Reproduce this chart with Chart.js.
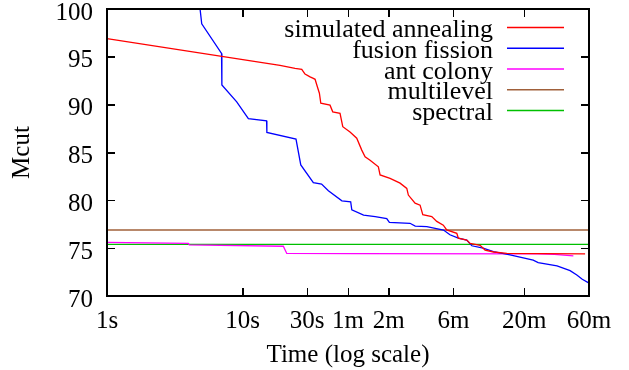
<!DOCTYPE html>
<html>
<head>
<meta charset="utf-8">
<script src="https://cdn.jsdelivr.net/npm/chart.js@4/dist/chart.umd.min.js"></script>
<style>
html,body{margin:0;padding:0;background:#fff;}
canvas{display:block;}
</style>
</head>
<body>
<canvas id="c" width="629" height="370"></canvas>
<script>
// ---- data ----
const seriesNames = ['simulated annealing', 'fusion fission', 'ant colony', 'multilevel', 'spectral'];
const seriesColors = ['#ff0000', '#0000ff', '#ff00ff', '#a0603a', '#00c000'];

// time in seconds
const saTime = [1, 18.9, 24.4, 27.35, 28.9, 31.5, 33.3, 34.3, 35.6, 36.9, 37.8, 44.2, 46.3, 52.4, 54.9, 62.1, 69.6, 75.8, 80.2, 87.3, 100.5, 103.5, 122.6, 145.3, 162.9, 167.3, 187.5, 204.2, 213.8, 249, 271, 303, 321, 381, 391, 451, 478, 566, 616, 710, 891, 1600, 3370];
const saCut  = [96.9, 94.1, 93.8, 93.7, 93.2, 92.9, 92.75, 92.65, 91.9, 91.2, 90.15, 89.95, 89.25, 89.1, 87.7, 87.15, 86.5, 85.25, 84.55, 84.2, 83.5, 82.65, 82.3, 81.8, 81.25, 80.55, 79.7, 79.5, 78.5, 78.3, 77.8, 77.4, 76.9, 76.55, 76.05, 75.85, 75.5, 75.3, 74.8, 74.6, 74.45, 74.42, 74.4];

const ffTime = [4.86, 5.0, 7.0, 7.04, 9.06, 11.04, 15.05, 15.12, 24.8, 26.9, 33.3, 38.3, 43.0, 54.1, 62.8, 64.0, 78.2, 95.2, 115.9, 121.2, 172, 188, 229, 304, 339, 391, 451, 492, 596, 710, 941, 1395, 1518, 2091, 2611, 2927, 3211, 3552];
const ffCut  = [100, 98.45, 95.35, 92.05, 90.3, 88.55, 88.3, 87.1, 86.4, 83.7, 81.85, 81.7, 81.0, 79.95, 79.85, 79.0, 78.45, 78.3, 78.1, 77.7, 77.6, 77.3, 77.25, 76.9, 76.4, 76.05, 75.85, 75.25, 75.0, 74.65, 74.3, 73.75, 73.5, 73.15, 72.65, 72.2, 71.75, 71.4];

const antTime = [1, 3.98, 4.05, 20, 21.2, 65, 1500, 2000, 2760];
const antCut  = [75.6, 75.5, 75.35, 75.2, 74.45, 74.42, 74.4, 74.35, 74.2];

const mlTime = [1, 3600];
const mlCut  = [76.9, 76.9];

const spTime = [1, 3600];
const spCut  = [75.4, 75.4];

const xTickValues = [1, 10, 30, 60, 120, 360, 1200, 3600];
const xTickLabels = ['1s', '10s', '30s', '1m', '2m', '6m', '20m', '60m'];
const yTickValues = [70, 75, 80, 85, 90, 95, 100];
const yTickLabels = ['70', '75', '80', '85', '90', '95', '100'];

const FONT = '"Liberation Serif", "Times New Roman", serif';

function pts(ts, vs) { return ts.map((t, i) => ({ x: t, y: vs[i] })); }
const seriesPoints = [pts(saTime, saCut), pts(ffTime, ffCut), pts(antTime, antCut), pts(mlTime, mlCut), pts(spTime, spCut)];

// gnuplot-like frame: black border on every side with short inward tick marks
const frameGrid = { display: true, drawOnChartArea: false, drawTicks: true, tickLength: -8, color: '#000', lineWidth: 1 };
const frameBorder = { display: true, color: '#000', width: 2 };

const gnuplotKey = {
  id: 'gnuplotKey',
  afterDraw(chart) {
    const ctx = chart.ctx;
    const a = chart.chartArea;
    const xs = chart.scales.x, ys = chart.scales.y;
    ctx.save();
    ctx.strokeStyle = '#000000';
    ctx.lineWidth = 2;
    ctx.strokeRect(a.left, a.top, a.right - a.left, a.bottom - a.top);
    ctx.fillStyle = '#000000';
    xs.ticks.forEach(t => {
      const px = Math.round(xs.getPixelForValue(t.value));
      ctx.fillRect(px, a.bottom - 8, 1, 8);
      ctx.fillRect(px, a.top, 1, 8);
    });
    ys.ticks.forEach(t => {
      const py = Math.round(ys.getPixelForValue(t.value));
      ctx.fillRect(a.left, py, 8, 1);
      ctx.fillRect(a.right - 8, py, 8, 1);
    });
    ctx.restore();
    ctx.save();
    ctx.font = '26px ' + FONT;
    ctx.fillStyle = '#000000';
    ctx.textAlign = 'right';
    ctx.textBaseline = 'alphabetic';
    for (let i = 0; i < seriesNames.length; i++) {
      const y = 27.5 + i * 20.75;
      ctx.fillText(seriesNames[i], 493, y + 9.5);
      ctx.strokeStyle = seriesColors[i];
      ctx.lineWidth = 1.3;
      ctx.beginPath();
      ctx.moveTo(507, y); ctx.lineTo(564, y);
      ctx.stroke();
    }
    ctx.restore();
  }
};

new Chart(document.getElementById('c'), {
  type: 'line',
  data: {
    datasets: seriesNames.map((name, i) => ({
      label: name,
      data: seriesPoints[i],
      borderColor: seriesColors[i],
      backgroundColor: seriesColors[i],
      borderWidth: 1.3,
      pointRadius: 0,
      tension: 0,
      fill: false
    }))
  },
  options: {
    responsive: false,
    animation: false,
    devicePixelRatio: 1,
    layout: { padding: { top: 9, right: 40, left: 0, bottom: 0 } },
    plugins: { legend: { display: false }, tooltip: { enabled: false } },
    scales: {
      x: {
        type: 'logarithmic', position: 'bottom',
        min: 1, max: 3600, bounds: 'data',
        afterBuildTicks: s => { s.ticks = xTickValues.map(v => ({ value: v })); },
        afterFit: s => { s.height = 74; s.paddingLeft = 0; s.paddingRight = 0; },
        grid: frameGrid,
        border: frameBorder,
        ticks: {
          autoSkip: false, maxRotation: 0, minRotation: 0, padding: 18, color: '#000',
          font: { family: FONT, size: 25 },
          callback: (v, i) => xTickLabels[i]
        },
        title: { display: true, text: 'Time (log scale)', color: '#000', font: { family: FONT, size: 25 }, padding: { top: 4, bottom: 0 } }
      },
      x2: {
        type: 'logarithmic', position: 'top',
        min: 1, max: 3600, bounds: 'data',
        afterBuildTicks: s => { s.ticks = xTickValues.map(v => ({ value: v })); },
        afterFit: s => { s.height = 0; s.paddingLeft = 0; s.paddingRight = 0; },
        grid: frameGrid,
        border: frameBorder,
        ticks: { display: false }
      },
      y: {
        type: 'linear', position: 'left',
        min: 70, max: 100,
        afterBuildTicks: s => { s.ticks = yTickValues.map(v => ({ value: v })); },
        afterFit: s => { s.width = 107; s.paddingTop = 0; s.paddingBottom = 0; },
        grid: frameGrid,
        border: frameBorder,
        ticks: {
          padding: 22, labelOffset: 4, color: '#000',
          font: { family: FONT, size: 25 },
          callback: (v, i) => yTickLabels[i]
        },
        title: { display: true, text: 'Mcut', color: '#000', font: { family: FONT, size: 25 }, padding: { top: 7, bottom: 0 } }
      },
      y2: {
        type: 'linear', position: 'right',
        min: 70, max: 100,
        afterBuildTicks: s => { s.ticks = yTickValues.map(v => ({ value: v })); },
        afterFit: s => { s.width = 0; s.paddingTop = 0; s.paddingBottom = 0; },
        grid: frameGrid,
        border: frameBorder,
        ticks: { display: false }
      }
    }
  },
  plugins: [gnuplotKey]
});
</script>
</body>
</html>
